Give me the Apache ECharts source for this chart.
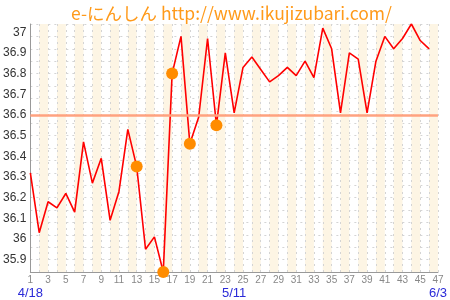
<!DOCTYPE html>
<html>
<head>
<meta charset="utf-8">
<script src="https://cdn.jsdelivr.net/npm/echarts@6/dist/echarts.min.js"></script>
<style>html,body{margin:0;padding:0;background:#fff}#c{width:450px;height:300px}</style>
</head>
<body>
<div id="c"></div>
<script>
// ---- data ----
const titleText = 'e-にんしん http://www.ikujizubari.com/';
const days = [1,2,3,4,5,6,7,8,9,10,11,12,13,14,15,16,17,18,19,20,21,22,23,24,25,26,27,28,29,30,31,32,33,34,35,36,37,38,39,40,41,42,43,44,45,46];
const temps = [36.32,36.03,36.18,36.15,36.22,36.13,36.47,36.27,36.39,36.09,36.23,36.53,36.35,35.95,36.01,35.84,36.80,36.98,36.46,36.59,36.97,36.55,36.90,36.61,36.83,36.88,36.82,36.76,36.79,36.83,36.79,36.86,36.78,37.02,36.92,36.61,36.90,36.87,36.61,36.86,36.98,36.92,36.97,37.04,36.96,36.92];
const markedDays = [13,16,17,19,22];
const coverLine = 36.6;
const yTickLabels = [35.9,36.0,36.1,36.2,36.3,36.4,36.5,36.6,36.7,36.8,36.9,37.0];
const dateDays = [1,24,47];
const dateTexts = ['4/18','5/11','6/3'];
const xMin = 1, xMax = 47;
const yMin = 35.84, yMax = 37.04;

const lineData = days.map((d,i)=>[d,temps[i]]);
const dotData = markedDays.map(d=>[d,temps[days.indexOf(d)]]);

const chart = echarts.init(document.getElementById('c'), null, {renderer:'canvas'});
chart.setOption({
  animation:false,
  backgroundColor:'#fff',
  title:{text:titleText,left:66,top:0,textStyle:{color:'#ff9a1a',fontSize:17.5,fontWeight:'normal',fontFamily:'"Noto Sans CJK JP", sans-serif'}},
  grid:{left:28,right:10,top:24,bottom:24,containLabel:false},
  xAxis:[{
    type:'value',min:xMin,max:xMax,interval:1,
    axisLine:{show:true,onZero:false,lineStyle:{color:'#999'}},
    axisTick:{show:false},
    axisLabel:{color:'#888',fontSize:10,margin:3,fontFamily:'Liberation Sans',
      formatter:v=>(Math.round(v)%2===1?String(Math.round(v)):''),showMinLabel:true,showMaxLabel:true},
    splitLine:{show:true,lineStyle:{color:'#d4d4d4',type:[2,4],width:1}},
    splitArea:{show:true,areaStyle:{color:['rgba(255,255,255,0)','#fdf5e4']}}
  },{
    type:'value',min:xMin,max:xMax,interval:1,position:'bottom',offset:12,
    axisLine:{show:false},axisTick:{show:false},splitLine:{show:false},
    axisLabel:{color:'#2a2ad8',fontSize:13,margin:3,fontFamily:'Liberation Sans',showMinLabel:true,showMaxLabel:true,
      formatter:v=>{const k=dateDays.indexOf(Math.round(v));return k>=0?dateTexts[k]:'';}}
  }],
  yAxis:[{
    type:'value',min:yMin,max:yMax,interval:0.02,
    axisLine:{show:true,onZero:false,lineStyle:{color:'#999'}},
    axisTick:{show:false},
    splitLine:{show:false},
    axisLabel:{color:'#333',fontSize:12,margin:4,fontFamily:'Liberation Sans',
      formatter:v=>{const hit=yTickLabels.some(t=>Math.abs(t-v)<1e-6);return hit?String(Number(v.toFixed(1))):'';}}
  },{
    type:'value',min:0,max:20,interval:1,position:'left',
    axisLine:{show:false},axisTick:{show:false},axisLabel:{show:false},
    splitLine:{show:true,lineStyle:{color:'#d4d4d4',type:[2,4],width:1}}
  }],
  series:[{
    type:'line',data:lineData,xAxisIndex:0,yAxisIndex:0,
    symbol:'none',lineStyle:{color:'#ff0000',width:1.6},z:3,
    markLine:{silent:true,symbol:'none',label:{show:false},
      lineStyle:{color:'#ffa27f',width:2.5,type:'solid'},data:[{yAxis:coverLine}]}
  },{
    type:'scatter',data:dotData,xAxisIndex:0,yAxisIndex:0,
    symbol:'circle',symbolSize:12,itemStyle:{color:'#ff8c00',opacity:1},z:4
  }]
});
</script>
</body>
</html>
